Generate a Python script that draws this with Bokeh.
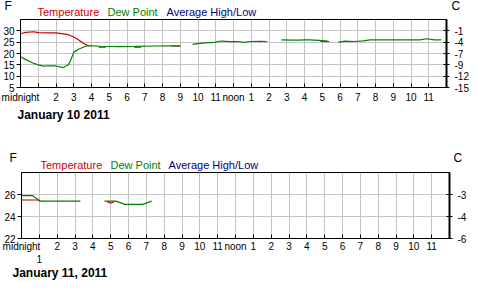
from bokeh.plotting import figure
from bokeh.layouts import column
from bokeh.models import FixedTicker, LinearAxis, Range1d
from bokeh.core.properties import value
from bokeh.embed import file_html
from bokeh.resources import INLINE

nan = float("nan")

# ---------------- data ----------------
hour_ticks = list(range(24))
hour_labels_top = ["midnight", "", "2", "3", "4", "5", "6", "7", "8", "9", "10", "11",
                   "noon", "1", "2", "3", "4", "5", "6", "7", "8", "9", "10", "11"]
hour_labels_bot = ["midnight", "\n1", "2", "3", "4", "5", "6", "7", "8", "9", "10", "11",
                   "noon", "1", "2", "3", "4", "5", "6", "7", "8", "9", "10", "11"]

top_f_ticks = [5, 10, 15, 20, 25, 30]
top_c_labels = ["-15", "-12", "-9", "-7", "-4", "-1"]
bot_f_ticks = [22, 24, 26]
bot_c_labels = ["-6", "-4", "-3"]

series_names = ["Temperature", "Dew Point", "Average High/Low"]
date_top = "January 10 2011"
date_bot = "January 11, 2011"

# January 10 2011 (F)
top_dew_hours = [0.0, 0.3, 0.7, 1.0, 1.3, 1.6, 2.0, 2.4, 2.7, 2.85, 3.0, 3.3, 3.6, 3.8,
                 4.5, 5.5, 6.5, 7.5, 8.5, 9.0, nan,
                 9.7, 10.2, 10.9, 11.3, 11.8, 12.2, 12.6, 13.0, 13.5, 13.9, nan,
                 14.7, 15.3, 15.7, 16.0, 16.3, 16.8, 17.3, nan,
                 17.9, 18.3, 18.8, 19.3, 19.7, 20.5, 21.5, 22.5, 22.9, 23.3, 23.7]
top_dew_vals = [18.6, 17.3, 15.8, 15.0, 14.4, 14.6, 14.5, 13.8, 15.0, 17.5, 20.6, 22.0, 23.0, 23.5,
                23.2, 23.0, 23.1, 23.3, 23.4, 23.4, nan,
                24.0, 24.6, 24.9, 25.5, 25.2, 25.3, 24.9, 25.3, 25.4, 25.3, nan,
                26.0, 25.9, 25.9, 26.0, 26.0, 25.8, 25.5, nan,
                25.0, 25.5, 25.3, 25.6, 26.0, 26.0, 26.0, 26.0, 26.5, 26.0, 26.0]
top_temp_hours = [0.0, 0.3, 0.75, 1.0, 1.5, 2.0, 2.3, 2.7, 3.0, 3.3, 3.6, 3.8, nan,
                  4.4, 4.8, nan, 6.4, 6.8, nan, 8.5, 9.0, nan, 16.9, 17.4]
top_temp_vals = [28.7, 29.3, 29.6, 29.2, 29.1, 29.1, 28.8, 28.3, 27.3, 25.8, 24.2, 23.5, nan,
                 22.8, 22.8, nan, 22.8, 22.8, nan, 23.3, 23.3, nan, 25.3, 25.3]

# January 11 2011 (F)
bot_dew_hours = [0.0, 0.6, 1.05, 1.5, 2.5, 3.3, nan, 4.65, 5.0, 5.3, 5.8, 6.3, 6.8, 7.3]
bot_dew_vals = [25.9, 25.9, 25.4, 25.4, 25.4, 25.4, nan, 25.4, 25.4, 25.4, 25.1, 25.1, 25.1, 25.4]
bot_temp_hours = [0.0, 0.9, 1.05, nan, 4.8, 5.0, 5.2]
bot_temp_vals = [25.5, 25.5, 25.4, nan, 25.35, 25.2, 25.35]

RED = "#cc0000"
GREEN = "#008000"
NAVY = "#000080"
FONT = "Liberation Sans"
W = 478


def strip(H):
    """A plain text band (no axes) whose coordinates are page pixels, y from top."""
    s = figure(width=W, height=H, x_range=Range1d(0, W), y_range=Range1d(H, 0),
               output_backend="svg", toolbar_location=None, frame_align=False,
               x_axis_location=None, y_axis_location=None, min_border=0)
    s.grid.visible = False
    s.outline_line_color = None
    s.background_fill_color = "white"
    s.border_fill_color = "white"
    return s


def put(s, x, y, text, color="black", size="11px", style="normal"):
    s.text(x=[x], y=[y], text=[text], text_color=color, text_font=value(FONT),
           text_font_size=value(size), text_font_style=style,
           text_align="left", text_baseline="middle")


def header(H, f_x, f_y, c_x, head_x, head_y):
    s = strip(H)
    put(s, f_x, f_y, "F", size="12px")
    put(s, c_x, f_y, "C", size="12px")
    for x, name, col in zip(head_x, series_names, [RED, GREEN, NAVY]):
        put(s, x, head_y, name, col)
    return s


def footer(H, x, y, text):
    s = strip(H)
    put(s, x, y, text, size="12px", style="bold")
    return s


def make_chart(H, ylo, yhi, fticks, clabels, xlabels, dew_h, dew_v, temp_h, temp_v,
               bl, br, bt, bb, xstandoff):
    p = figure(width=W, height=H, x_range=Range1d(0, 24), y_range=Range1d(ylo, yhi),
               output_backend="svg", toolbar_location=None, frame_align=False,
               min_border_left=bl, min_border_right=br, min_border_top=bt, min_border_bottom=bb)
    p.background_fill_color = "white"
    p.border_fill_color = "white"
    p.outline_line_color = "black"
    p.outline_line_width = 1

    xa = p.xaxis[0]
    xa.ticker = FixedTicker(ticks=hour_ticks)
    xa.major_label_overrides = {h: lab for h, lab in zip(hour_ticks, xlabels)}
    xa.major_tick_in = 4
    xa.major_tick_out = 0
    xa.minor_tick_line_color = None
    xa.major_label_standoff = xstandoff
    xa.major_label_text_font = FONT
    xa.major_label_text_font_size = "10px"
    xa.major_label_text_color = "black"
    xa.axis_line_color = "black"

    ya = p.yaxis[0]
    ya.ticker = FixedTicker(ticks=fticks)
    ya.major_tick_in = 0
    ya.major_tick_out = 4
    ya.minor_tick_line_color = None
    ya.major_label_standoff = 2
    ya.major_label_text_font = FONT
    ya.major_label_text_font_size = "10px"
    ya.major_label_text_color = "black"
    ya.axis_line_color = "black"

    ra = LinearAxis(ticker=FixedTicker(ticks=fticks),
                    major_label_overrides={f: c for f, c in zip(fticks, clabels)})
    ra.major_tick_in = 3
    ra.major_tick_out = 3
    ra.minor_tick_line_color = None
    ra.major_label_standoff = 5
    ra.major_label_text_font = FONT
    ra.major_label_text_font_size = "10px"
    ra.major_label_text_color = "black"
    ra.axis_line_color = "black"
    ra.axis_line_width = 2
    p.add_layout(ra, "right")

    p.xgrid.ticker = FixedTicker(ticks=list(range(1, 24)))
    p.ygrid.ticker = FixedTicker(ticks=fticks)
    p.xgrid.grid_line_color = "#c4c4c4"
    p.ygrid.grid_line_color = "#c4c4c4"

    p.line(temp_h, temp_v, line_color=RED, line_width=1.2)
    p.line(dew_h, dew_v, line_color=GREEN, line_width=1.2)
    return p


# page band heights: 18 + 88 + 39 = 145 ; 26 + 96 + 33 = 155
h1 = header(18, 4, 5, 451, (37, 107, 166), 11)
p1 = make_chart(88, 5, 35, top_f_ticks, top_c_labels, hour_labels_top,
                top_dew_hours, top_dew_vals, top_temp_hours, top_temp_vals,
                19, 32, 1, 19, 4)
d1 = footer(39, 17, 8, date_top)

h2 = header(26, 9, 12, 453, (40, 110, 168), 19)
p2 = make_chart(96, 22, 28, bot_f_ticks, bot_c_labels, hour_labels_bot,
                bot_dew_hours, bot_dew_vals, bot_temp_hours, bot_temp_vals,
                21, 29, 1, 26, 2)
d2 = footer(33, 12, 5, date_bot)

layout = column(h1, p1, d1, h2, p2, d2, spacing=0)
open("out.html", "w").write(file_html(layout, INLINE))
